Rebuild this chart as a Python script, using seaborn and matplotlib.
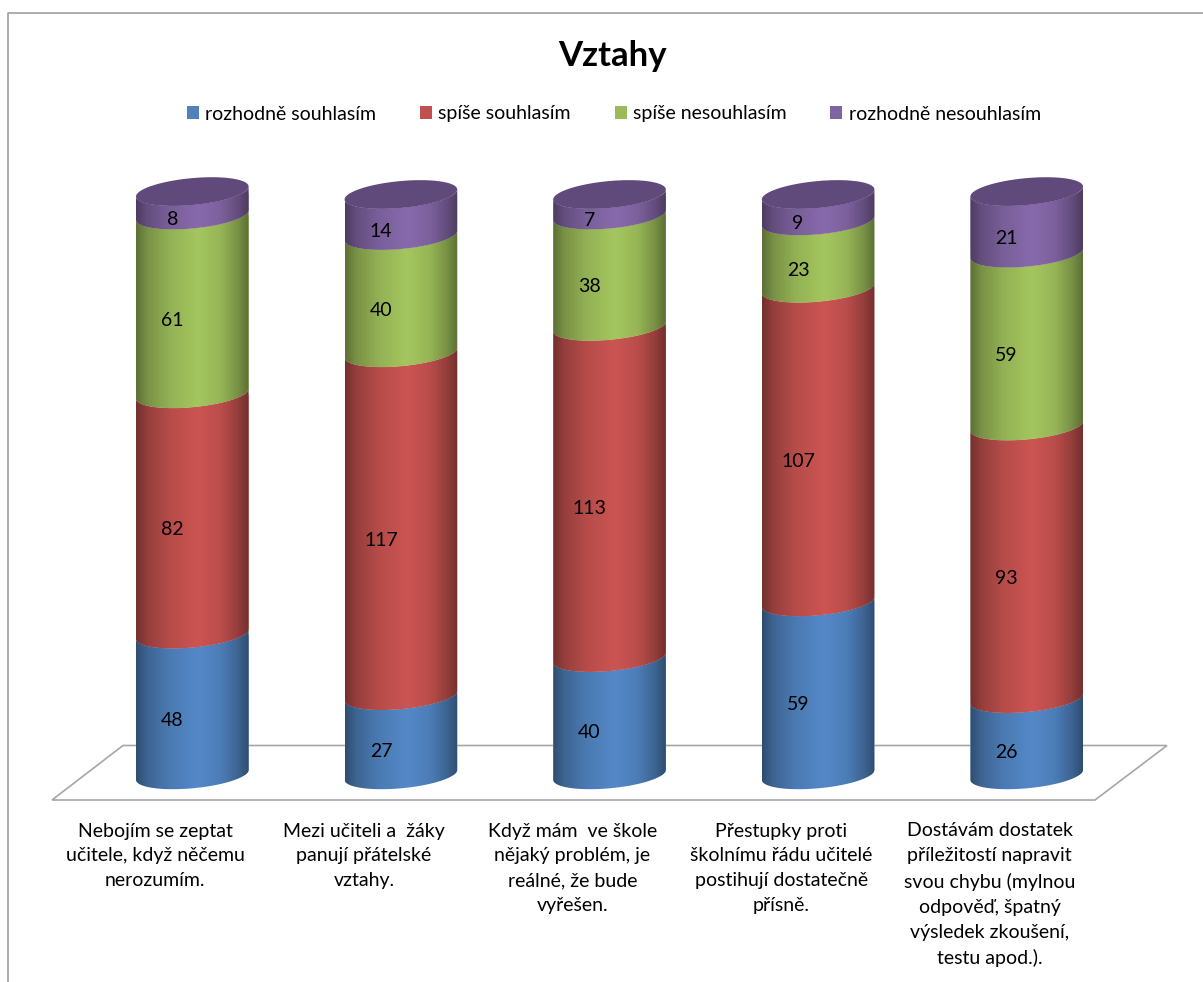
"""Stacked cylinder chart of the 'Vztahy' survey questions."""

import matplotlib.pyplot as plt
import numpy as np
import pandas as pd
import seaborn as sns
from matplotlib.lines import Line2D
from matplotlib.patches import Patch, PathPatch, Polygon
from matplotlib.path import Path

questions = [
    'Nebojím se zeptat\nučitele, když něčemu\nnerozumím.',
    'Mezi učiteli a  žáky\npanují přátelské\nvztahy.',
    'Když mám  ve škole\nnějaký problém, je\nreálné, že bude\nvyřešen.',
    'Přestupky proti\nškolnímu řádu učitelé\npostihují dostatečně\npřísně.',
    'Dostávám dostatek\npříležitostí napravit\nsvou chybu (mylnou\nodpověď, špatný\nvýsledek zkoušení,\ntestu apod.).',
]
series_names = ['rozhodně souhlasím', 'spíše souhlasím', 'spíše nesouhlasím', 'rozhodně nesouhlasím']
strongly_agree = [48, 27, 40, 59, 26]
rather_agree = [82, 117, 113, 107, 93]
rather_disagree = [61, 40, 38, 23, 59]
strongly_disagree = [8, 14, 7, 9, 21]

colors = ['#4F81BD', '#C0504D', '#9BBB59', '#8064A2']
top_color = '#604A7B'

W, H = 1203, 982
ELL_B = 4.6     # ellipse half height, data units
ELL_TILT = 1.7  # right end of a ring sits higher than the left end


def px_x(x):
    return x / W


def px_y(y):
    return 1 - y / H


def ring(cx, half_w, y, start, stop, n=60):
    t = np.linspace(start, stop, n)
    return np.column_stack([cx + half_w * np.cos(t), y + ELL_TILT * np.cos(t) - ELL_B * np.sin(t)])


def shaded(color):
    pos = np.linspace(0, 1, 120)
    gain = np.interp(pos, [0, .1, .3, .55, .75, .9, 1], [.60, .78, .95, 1.06, .97, .78, .60])
    rgb = np.array(plt.matplotlib.colors.to_rgb(color))
    return np.clip(gain[None, :, None] * rgb[None, None, :], 0, 1)


sns.set_theme(style='white')
plt.rcParams['font.family'] = ['Lato', 'DejaVu Sans']

df = pd.DataFrame({'question': questions, series_names[0]: strongly_agree, series_names[1]: rather_agree,
                   series_names[2]: rather_disagree, series_names[3]: strongly_disagree})

fig = plt.figure(figsize=(W / 100, H / 100), dpi=100)
ax = fig.add_axes([88 / W, 1 - 810 / H, 1043 / W, 636 / H])
ax.patch.set_visible(False)

bottom = np.zeros(len(questions))
for name, color in zip(series_names, colors):
    sns.barplot(data=df, x='question', y=name, color=color, width=0.54, bottom=bottom,
                errorbar=None, saturation=1, ax=ax)
    bottom = bottom + df[name].to_numpy()

ax.set_xlim(-0.5, 4.5)
ax.set_ylim(-12, 205)

for container, color, name in zip(ax.containers, colors, series_names):
    for rect, value in zip(container, df[name]):
        x0, half_w = rect.get_x(), rect.get_width() / 2
        cx = x0 + half_w
        y0, y1 = rect.get_y(), rect.get_y() + rect.get_height()
        verts = np.vstack([ring(cx, half_w, y0, np.pi, 0), ring(cx, half_w, y1, 0, np.pi)])
        clip = PathPatch(Path(verts, closed=False), transform=ax.transData, visible=False)
        ax.add_patch(clip)
        rect.set_clip_path(clip)
        img = ax.imshow(shaded(color), extent=(x0, x0 + 2 * half_w, y0 - 8, y1 + 8), aspect='auto',
                        interpolation='bilinear', zorder=2 + y0 / 1000)
        img.set_clip_path(clip)
        ax.annotate(str(value), xy=(cx, (y0 + y1) / 2), xytext=(-20, -16), textcoords='offset pixels',
                    ha='center', va='center', fontsize=14, color='black', zorder=5)

# dark lid on every cylinder
for rect in ax.containers[-1]:
    half_w = rect.get_width() / 2
    ax.add_patch(Polygon(ring(rect.get_x() + half_w, half_w, rect.get_y() + rect.get_height(), 0, 2 * np.pi, 120),
                         closed=True, facecolor=top_color, edgecolor='none', zorder=4))

ax.set_xlim(-0.5, 4.5)
ax.set_ylim(-12, 205)
ax.set_xticks(np.arange(len(questions)) - 37 / 208.6, labels=questions)
ax.tick_params(axis='x', length=0, pad=9, labelsize=14)
for label in ax.get_xticklabels():
    label.set_linespacing(1.56)
    label.set_color('black')
ax.set_yticks([])
ax.set_xlabel('')
ax.set_ylabel('')
sns.despine(ax=ax, left=True, bottom=True)

# floor of the 3D chart, behind the bars
floor = [(52, 800), (123, 745.5), (1167, 745.5), (1095, 800)]
fig.add_artist(Polygon([(px_x(x), px_y(y)) for x, y in floor], closed=True, fill=False, edgecolor='#A6A6A6',
                       linewidth=1.2, transform=fig.transFigure, zorder=-1))
# chart frame, cropped at the right and bottom
fig.add_artist(Line2D([px_x(8), px_x(8), 1], [0, px_y(13), px_y(13)], color='#A0A0A0', linewidth=1.2))

fig.text(px_x(612), px_y(56), 'Vztahy', ha='center', va='center', fontsize=25, fontweight='bold', color='black')

handles = [Patch(facecolor=c, edgecolor='none', label=n) for c, n in zip(colors, series_names)]
fig.legend(handles=handles, ncol=4, loc='center', bbox_to_anchor=(px_x(614), px_y(114)), frameon=False,
           fontsize=14, handlelength=0.62, handleheight=0.62, handletextpad=0.32, columnspacing=2.25,
           labelcolor='black')

fig.savefig('out.png', dpi=100, facecolor='white')
